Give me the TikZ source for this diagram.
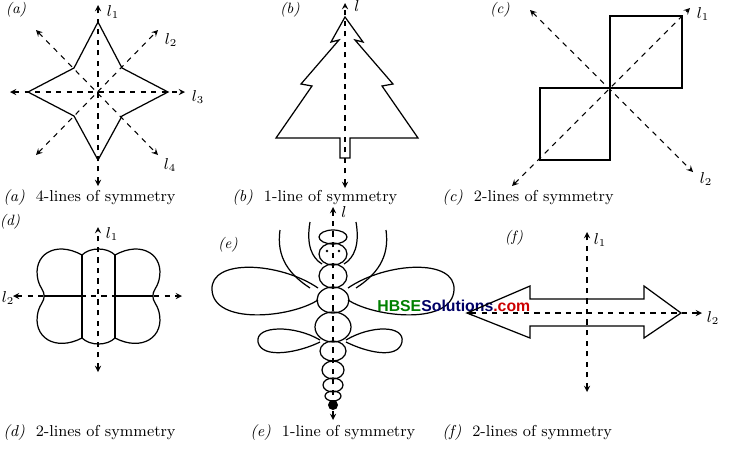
\documentclass[tikz,border=0pt]{standalone}
\usepackage{fontspec}
\newfontfamily\wmfont{Liberation Sans}
\begin{document}
\begin{tikzpicture}[x=0.02cm,y=-0.02cm,
 sh/.style={line width=0.7pt},
 ax2/.style={dashed,line width=0.6pt,<->,>=stealth},
 lb/.style={font=\fontsize{9}{10}\selectfont\itshape,inner sep=1pt},
 capt/.style={font=\fontsize{9}{10}\selectfont,anchor=west,inner sep=0pt},
 tag/.style={font=\fontsize{8.5}{10}\selectfont\itshape,inner sep=0pt}]
\useasboundingbox (0,0) rectangle (729,450);
% ---------- (a)
\node[tag] (ta) at (16,10) {(a)};
\draw[sh] (98,22)--(122,68)--(168,92)--(122,116)--(98,160)--(74,116)--(28,92)--(74,68)--cycle;
\draw[ax2] (98,186)--(98,5); \draw[ax2] (10,92)--(185,92);
\draw[ax2] (36,155)--(158,30); \draw[ax2] (36,30)--(158,155);
\node[lb] (la1) at (113,12) {$l_1$};
\node[lb] (la2) at (171,40) {$l_2$};
\node[lb] (la3) at (198,97) {$l_3$};
\node[lb] (la4) at (170,165) {$l_4$};
\node[capt] (capa) at (3,198) {\textit{(a)}\ \ 4-lines of symmetry};
% ---------- (b)
\node[tag] (tb) at (290,10) {(b)};
\draw[sh] (345,17)--(331,42)--(339,40)--(301,84)--(312,86)--(276,138)--(340,138)--(340,158)--(350,158)--(350,138)--(418,138)--(382,86)--(393,84)--(355,40)--(363,42)--cycle;
\draw[ax2] (345,188)--(345,3);
\node[lb] (lb1) at (357,6) {$l$};
\node[capt] (capb) at (232,198) {\textit{(b)}\ \ 1-line of symmetry};
% ---------- (c)
\node[tag] (tc) at (500,10) {(c)};
\draw[sh] (610,16) rectangle (682,88);
\draw[sh] (540,88) rectangle (610,160);
\draw[ax2] (512,186)--(690,8);
\draw[ax2] (530,10)--(693,172);
\node[lb] (lc1) at (703,14) {$l_1$};
\node[lb] (lc2) at (706,179) {$l_2$};
\node[capt] (capc) at (442,198) {\textit{(c)}\ \ 2-lines of symmetry};
% ---------- (d)
\node[tag] (td) at (10,222) {(d)};
\draw[sh] (82,255)..controls (90,247) and (107,247)..(115,255);
\draw[sh] (82,338)..controls (90,346) and (107,346)..(115,338);
\draw[sh] (82,255)--(82,338); \draw[sh] (115,255)--(115,338);
\draw[sh] (82,255)..controls (55,240) and (32,255)..(38,280)..controls (40,288) and (45,292)..(44,296)
  ..controls (45,300) and (40,304)..(38,312)..controls (32,337) and (55,352)..(82,338);
\draw[sh] (115,255)..controls (142,240) and (165,255)..(159,280)..controls (157,288) and (152,292)..(153,296)
  ..controls (152,300) and (157,304)..(159,312)..controls (165,337) and (142,352)..(115,338);
\draw[line width=1.2pt] (44,296)--(82,296); \draw[line width=1.2pt] (115,296)--(153,296);
\draw[ax2] (98,372)--(98,227);
\draw[ax2] (13,296)--(182,296);
\node[lb] (ld1) at (112,234) {$l_1$};
\node[lb] (ld2) at (8,298) {$l_2$};
\node[capt] (capd) at (3,433) {\textit{(d)}\ \ 2-lines of symmetry};
% ---------- (e)
\node[tag] (te) at (228,245) {(e)};
\begin{scope}[sh]
\draw (318,288)..controls (280,262) and (210,258)..(212,290)..controls (214,325) and (290,318)..(318,300);
\draw (348,288)..controls (386,262) and (456,258)..(454,290)..controls (452,325) and (376,318)..(348,300);
\draw (320,340)..controls (295,325) and (255,325)..(258,342)..controls (262,360) and (300,352)..(320,342);
\draw (346,340)..controls (371,325) and (405,325)..(402,342)..controls (398,360) and (366,352)..(346,342);
\draw (310,288)..controls (290,275) and (276,258)..(280,230);
\draw (356,288)..controls (376,275) and (390,258)..(386,230);
\draw (322,264)..controls (312,258) and (306,245)..(310,222);
\draw (344,264)..controls (354,258) and (360,245)..(356,222);
\draw (333,237) ellipse (14 and 7);
\draw (333,254) ellipse (14 and 11);
\fill (327,251) circle (1.4); \fill (339,251) circle (1.4);
\draw (333,276) ellipse (14 and 12);
\draw (333,300) ellipse (16 and 13);
\draw (333,327) ellipse (18 and 15);
\draw (333,351) ellipse (13 and 10);
\draw (333,370) ellipse (11 and 9);
\draw (333,385) ellipse (10 and 7);
\draw (333,396) ellipse (8 and 5);
\end{scope}
\fill (333,405) circle (5);
\draw[ax2] (333,420)--(333,207);
\node[lb] (le1) at (344,212) {$l$};
\node[capt] (cape) at (250,433) {\textit{(e)}\ \ 1-line of symmetry};
\node[font=\wmfont\bfseries\fontsize{9}{10}\selectfont,anchor=west,inner sep=0pt] (wm) at (377,306)
 {\textcolor{green!50!black}{HBSE}\textcolor{blue!40!black}{Solutions}\textcolor{red!80!black}{.com}};
% ---------- (f)
\node[tag] (tf) at (514,238) {(f)};
\draw[sh] (467,313)--(530,286)--(530,299)--(644,299)--(644,286)--(681,313)--(644,338)--(644,326)--(530,326)--(530,338)--cycle;
\draw[ax2] (587,392)--(587,232);
\draw[ax2] (467,313)--(702,313);
\node[lb] (lf1) at (600,240) {$l_1$};
\node[lb] (lf2) at (713,318) {$l_2$};
\node[capt] (capf) at (442,433) {\textit{(f)}\ \ 2-lines of symmetry};
\end{tikzpicture}
\end{document}
